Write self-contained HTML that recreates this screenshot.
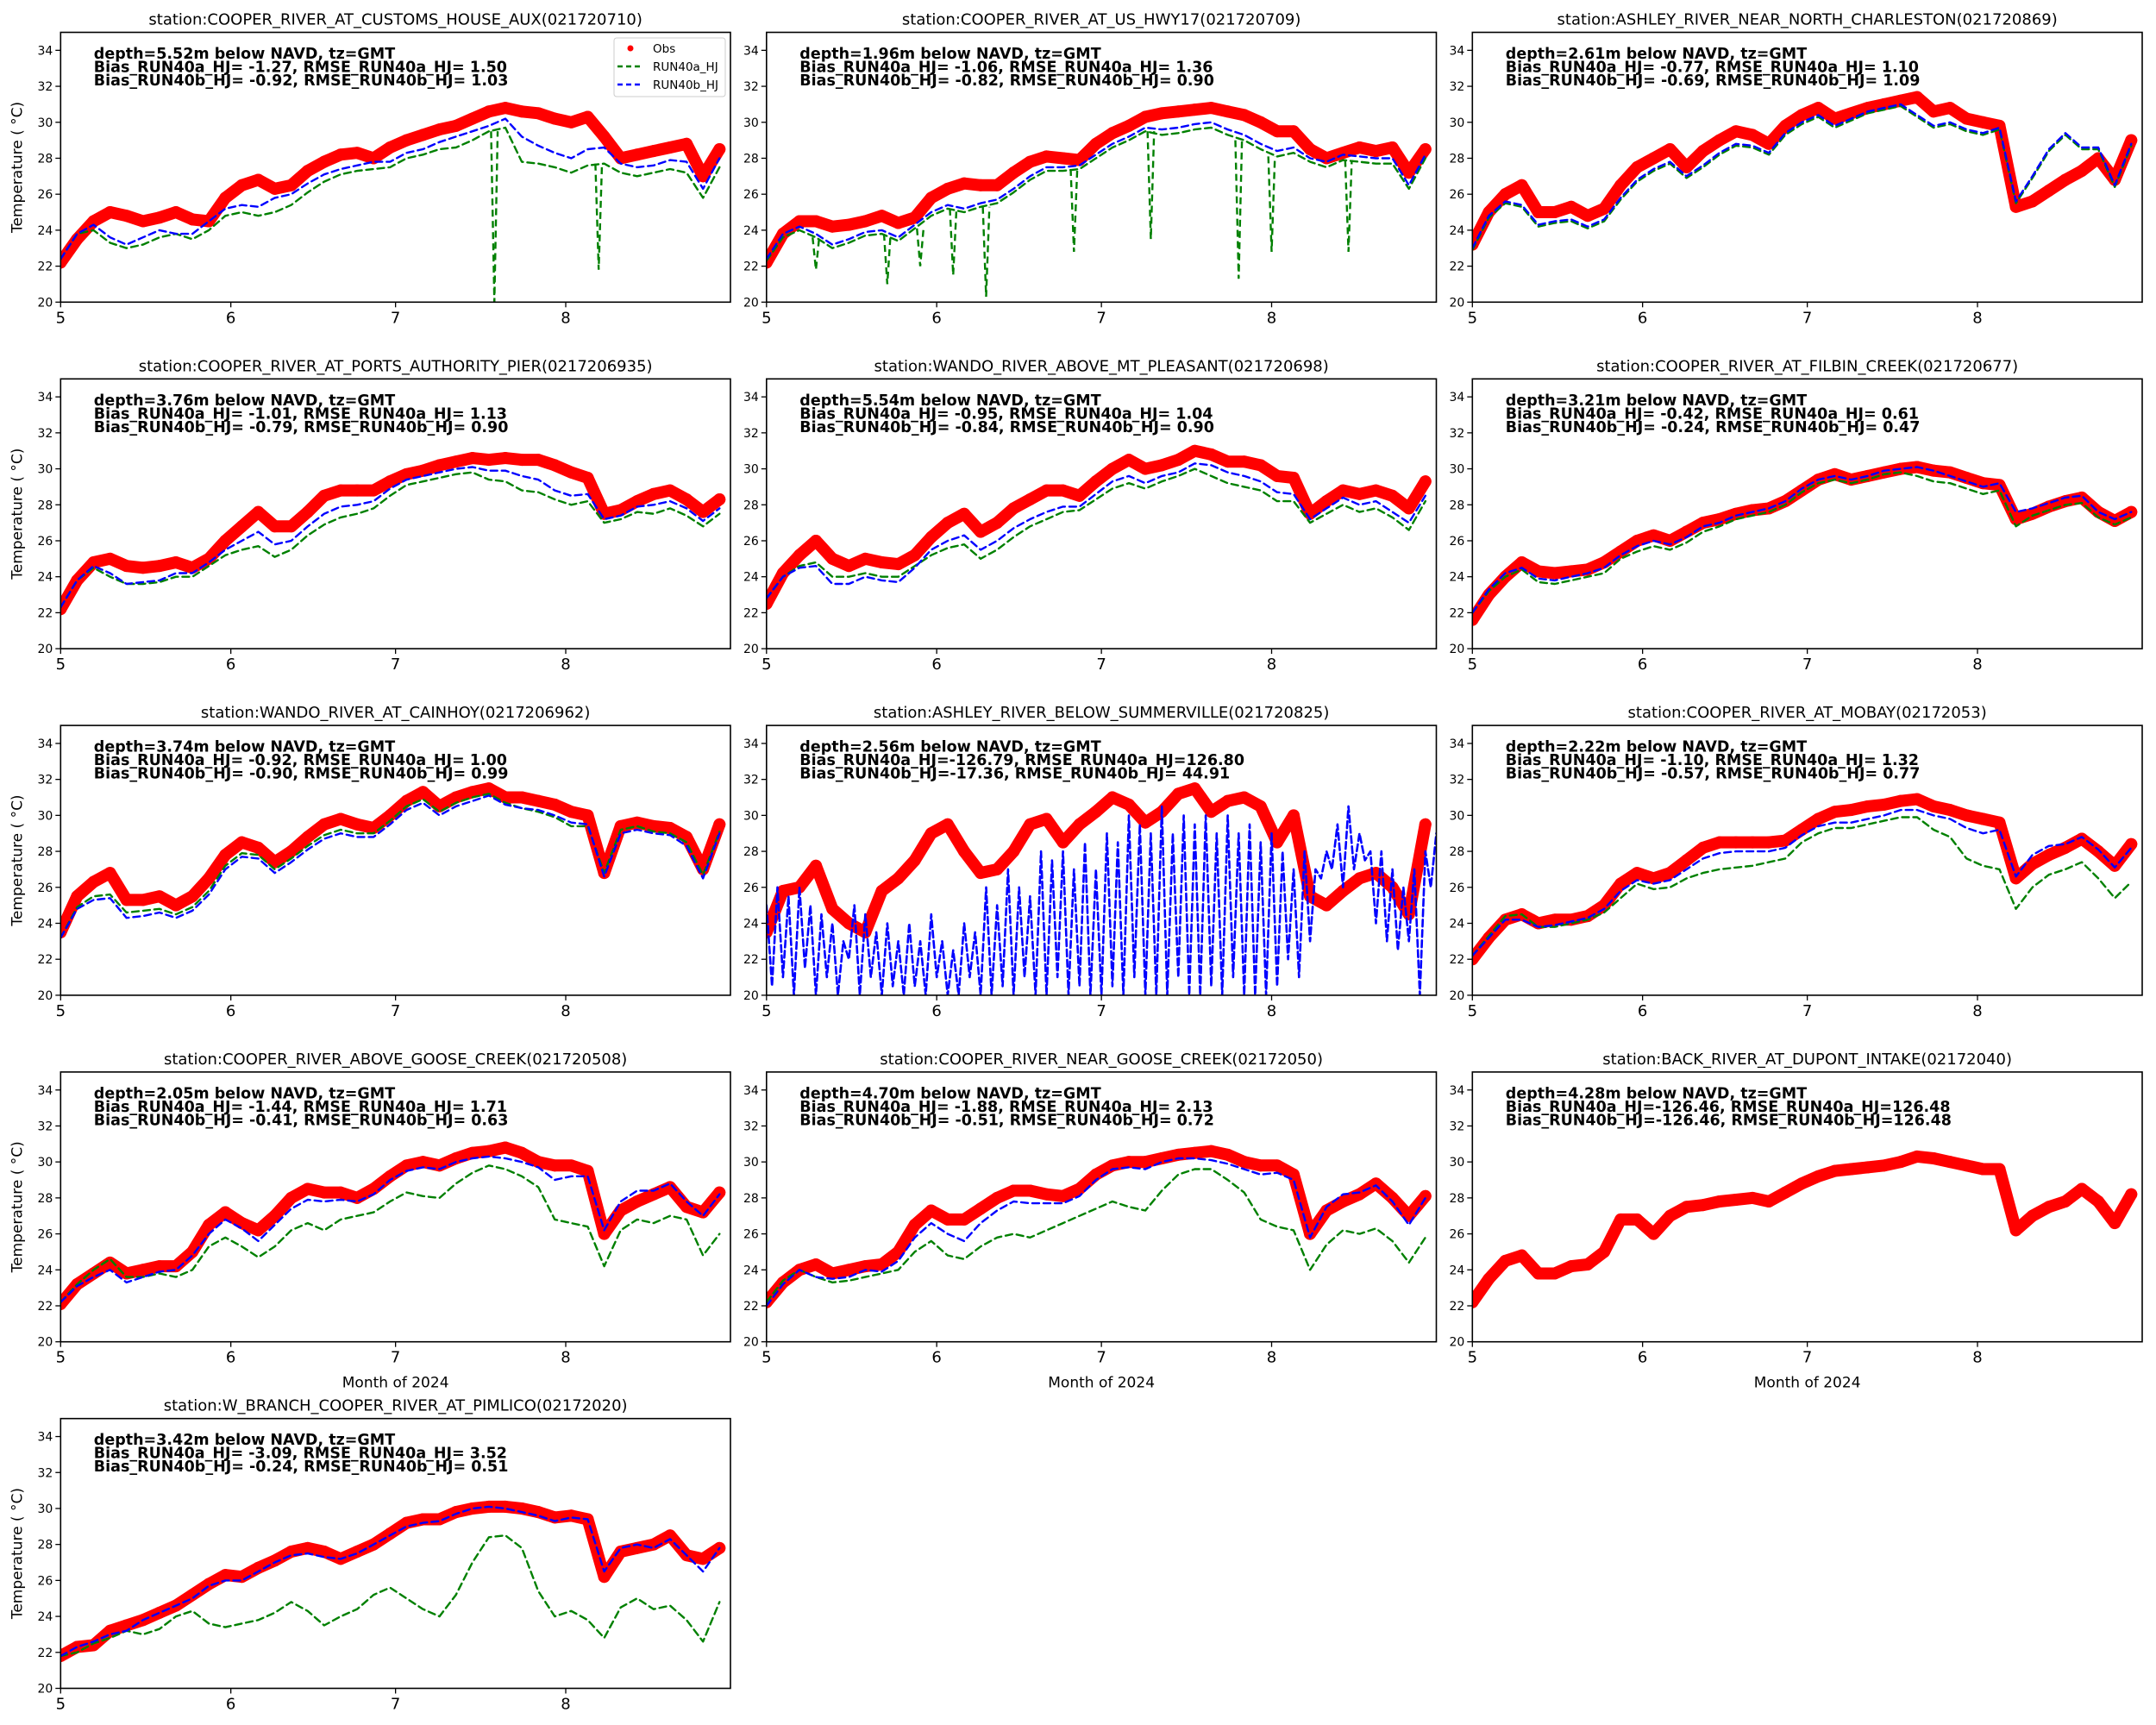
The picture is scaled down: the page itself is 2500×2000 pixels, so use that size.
<!DOCTYPE html>
<html><head><meta charset="utf-8"><style>
html,body{margin:0;padding:0;background:#fff;}
svg{display:block;font-family:"DejaVu Sans","Liberation Sans",sans-serif;}
</style></head><body>
<svg id="fig" width="2500" height="2000" viewBox="0 0 2500 2000" xmlns="http://www.w3.org/2000/svg"></svg>
<script>
// ---- data (days since May 1, 3-day step) ----
const dayStep = 3;
const yTicks = [20,22,24,26,28,30,32,34];
const xTickLabels = ["5","6","7","8"];
const xTickDays = [0,31,61,92];
const stations = [
"station:COOPER_RIVER_AT_CUSTOMS_HOUSE_AUX(021720710)",
"station:COOPER_RIVER_AT_US_HWY17(021720709)",
"station:ASHLEY_RIVER_NEAR_NORTH_CHARLESTON(021720869)",
"station:COOPER_RIVER_AT_PORTS_AUTHORITY_PIER(0217206935)",
"station:WANDO_RIVER_ABOVE_MT_PLEASANT(021720698)",
"station:COOPER_RIVER_AT_FILBIN_CREEK(021720677)",
"station:WANDO_RIVER_AT_CAINHOY(0217206962)",
"station:ASHLEY_RIVER_BELOW_SUMMERVILLE(021720825)",
"station:COOPER_RIVER_AT_MOBAY(02172053)",
"station:COOPER_RIVER_ABOVE_GOOSE_CREEK(021720508)",
"station:COOPER_RIVER_NEAR_GOOSE_CREEK(02172050)",
"station:BACK_RIVER_AT_DUPONT_INTAKE(02172040)",
"station:W_BRANCH_COOPER_RIVER_AT_PIMLICO(02172020)"];
const depths = ["5.52","1.96","2.61","3.76","5.54","3.21","3.74","2.56","2.22","2.05","4.70","4.28","3.42"];
const biasA = ["-1.27","-1.06","-0.77","-1.01","-0.95","-0.42","-0.92","-126.79","-1.10","-1.44","-1.88","-126.46","-3.09"];
const rmseA = [" 1.50"," 1.36"," 1.10"," 1.13"," 1.04"," 0.61"," 1.00","126.80"," 1.32"," 1.71"," 2.13","126.48"," 3.52"];
const biasB = ["-0.92","-0.82","-0.69","-0.79","-0.84","-0.24","-0.90","-17.36","-0.57","-0.41","-0.51","-126.46","-0.24"];
const rmseB = [" 1.03"," 0.90"," 1.09"," 0.90"," 0.90"," 0.47"," 0.99"," 44.91"," 0.77"," 0.63"," 0.72","126.48"," 0.51"];

const obs1=[22.2,23.5,24.5,25.0,24.8,24.5,24.7,25.0,24.6,24.5,25.8,26.5,26.8,26.3,26.5,27.3,27.8,28.2,28.3,28.0,28.6,29.0,29.3,29.6,29.8,30.2,30.6,30.8,30.6,30.5,30.2,30.0,30.3,29.2,28.0,28.2,28.4,28.6,28.8,27.0,28.5];
const runB1=[22.4,23.8,24.3,23.6,23.2,23.6,24.0,23.8,23.8,24.5,25.2,25.4,25.3,25.8,26.0,26.6,27.1,27.4,27.6,27.8,27.8,28.3,28.5,28.9,29.2,29.5,29.8,30.2,29.2,28.7,28.3,28.0,28.5,28.6,27.7,27.5,27.6,27.9,27.8,26.3,28.0];
const runA1=[22.4,23.8,24.0,23.3,23.0,23.2,23.6,23.8,23.5,24.0,24.8,25.0,24.8,25.0,25.4,26.1,26.7,27.1,27.3,27.4,27.5,28.0,28.2,28.5,28.6,29.0,29.5,29.7,27.8,27.7,27.5,27.2,27.6,27.7,27.2,27.0,27.2,27.4,27.2,25.8,27.5];
const spikeA1=[[79,20.0],[98,21.8]];

const obs2=[22.2,23.8,24.5,24.5,24.2,24.3,24.5,24.8,24.4,24.7,25.8,26.3,26.6,26.5,26.5,27.2,27.8,28.1,28.0,27.9,28.8,29.4,29.8,30.3,30.5,30.6,30.7,30.8,30.6,30.4,30.0,29.5,29.5,28.5,28.0,28.3,28.6,28.4,28.6,27.2,28.5];
const runB2=[22.4,23.8,24.2,23.8,23.2,23.5,23.9,24.0,23.6,24.3,25.0,25.4,25.2,25.5,25.7,26.3,27.0,27.5,27.5,27.6,28.2,28.8,29.2,29.7,29.6,29.7,29.9,30.0,29.6,29.3,28.8,28.4,28.6,28.0,27.8,28.2,28.1,28.0,28.0,26.5,28.2];
const runA2=[22.3,23.6,24.0,23.6,23.0,23.3,23.7,23.8,23.4,24.1,24.8,25.2,25.0,25.3,25.5,26.1,26.8,27.3,27.3,27.4,28.0,28.6,29.0,29.5,29.3,29.4,29.6,29.7,29.3,29.0,28.5,28.1,28.3,27.8,27.5,27.9,27.8,27.7,27.7,26.3,28.0];
const spikeA2=[[9,21.8],[22,21.0],[28,22.0],[34,21.5],[40,20.3],[56,22.8],[70,23.5],[86,21.3],[92,22.8],[106,22.8]];

const obs3=[23.2,25.0,26.0,26.5,25.0,25.0,25.3,24.8,25.2,26.5,27.5,28.0,28.5,27.5,28.4,29.0,29.5,29.3,28.8,29.8,30.4,30.8,30.2,30.5,30.8,31.0,31.2,31.4,30.6,30.8,30.2,30.0,29.8,25.3,25.6,26.2,26.8,27.3,28.0,26.8,29.0];
const runB3=[23.0,24.8,25.6,25.4,24.3,24.5,24.6,24.2,24.6,25.8,26.8,27.4,27.8,27.0,27.6,28.3,28.8,28.7,28.3,29.4,30.0,30.4,29.8,30.2,30.6,30.8,31.0,30.4,29.8,30.0,29.6,29.4,29.7,25.6,27.0,28.5,29.4,28.6,28.6,26.5,28.8];
const runA3=[22.9,24.7,25.5,25.3,24.2,24.4,24.5,24.1,24.5,25.7,26.7,27.3,27.7,26.9,27.5,28.2,28.7,28.6,28.2,29.3,29.9,30.3,29.7,30.1,30.5,30.7,30.9,30.3,29.7,29.9,29.5,29.3,29.6,25.5,26.9,28.4,29.3,28.5,28.5,26.4,28.7];

const obs4=[22.2,23.8,24.8,25.0,24.6,24.5,24.6,24.8,24.5,25.0,26.0,26.8,27.6,26.8,26.8,27.6,28.5,28.8,28.8,28.8,29.3,29.7,29.9,30.2,30.4,30.6,30.5,30.6,30.5,30.5,30.2,29.8,29.5,27.5,27.7,28.2,28.6,28.8,28.3,27.6,28.3];
const runB4=[22.3,23.8,24.6,24.2,23.6,23.7,23.8,24.2,24.2,24.8,25.5,26.0,26.5,25.8,26.0,26.8,27.5,27.9,28.0,28.2,28.9,29.4,29.6,29.8,30.0,30.1,29.9,29.9,29.6,29.4,28.8,28.5,28.6,27.2,27.4,27.9,28.0,28.2,27.8,27.1,27.8];
const runA4=[22.3,23.8,24.5,24.0,23.6,23.6,23.7,24.0,24.0,24.6,25.2,25.5,25.7,25.1,25.5,26.3,26.9,27.3,27.5,27.8,28.5,29.1,29.3,29.5,29.7,29.8,29.4,29.3,28.8,28.7,28.3,28.0,28.2,27.0,27.2,27.6,27.5,27.8,27.4,26.8,27.5];

const obs5=[22.5,24.2,25.2,26.0,25.0,24.6,25.0,24.8,24.7,25.2,26.2,27.0,27.5,26.5,27.0,27.8,28.3,28.8,28.8,28.5,29.3,30.0,30.5,30.0,30.2,30.5,31.0,30.8,30.4,30.4,30.2,29.6,29.5,27.5,28.2,28.8,28.6,28.8,28.5,27.8,29.3];
const runB5=[22.8,24.0,24.5,24.6,23.6,23.6,24.0,23.8,23.7,24.5,25.5,26.0,26.3,25.5,26.0,26.7,27.2,27.6,27.9,27.9,28.6,29.3,29.6,29.2,29.6,29.8,30.3,30.2,29.8,29.6,29.3,28.7,28.6,27.2,27.8,28.4,28.0,28.2,27.6,27.0,28.5];
const runA5=[22.8,24.0,24.6,24.8,24.0,24.0,24.2,24.0,24.0,24.6,25.2,25.6,25.8,25.0,25.5,26.2,26.8,27.2,27.6,27.7,28.3,28.9,29.2,28.9,29.3,29.6,30.0,29.6,29.2,29.0,28.8,28.2,28.2,27.0,27.5,28.0,27.6,27.8,27.3,26.6,28.2];

const obs6=[21.6,23.0,24.0,24.8,24.3,24.2,24.3,24.4,24.8,25.4,26.0,26.3,26.0,26.5,27.0,27.2,27.5,27.7,27.8,28.2,28.8,29.4,29.7,29.4,29.6,29.8,30.0,30.1,29.9,29.8,29.5,29.2,29.1,27.2,27.5,27.9,28.2,28.4,27.6,27.1,27.6];
const runB6=[22.0,23.3,24.2,24.5,23.9,23.8,24.0,24.2,24.5,25.2,25.7,26.0,25.8,26.2,26.8,27.0,27.4,27.6,27.8,28.2,28.9,29.4,29.6,29.4,29.6,29.9,30.0,30.1,29.9,29.6,29.3,29.0,29.2,27.6,27.8,28.1,28.4,28.5,27.6,27.2,27.6];
const runA6=[22.0,23.2,24.0,24.4,23.7,23.6,23.8,24.0,24.2,25.0,25.4,25.7,25.5,25.9,26.5,26.8,27.2,27.4,27.6,28.0,28.7,29.2,29.4,29.2,29.4,29.7,29.8,29.6,29.3,29.2,28.9,28.6,28.8,26.8,27.4,27.7,28.0,28.1,27.3,26.9,27.3];

const obs7=[23.5,25.5,26.3,26.8,25.3,25.3,25.5,25.0,25.5,26.5,27.8,28.5,28.2,27.4,28.0,28.8,29.5,29.8,29.5,29.3,30.0,30.8,31.3,30.5,31.0,31.3,31.5,31.0,31.0,30.8,30.6,30.2,30.0,26.8,29.4,29.6,29.4,29.3,28.8,27.0,29.5];
const runB7=[23.2,24.8,25.3,25.4,24.3,24.4,24.6,24.3,24.7,25.6,27.0,27.7,27.6,26.8,27.4,28.1,28.7,29.0,28.8,28.8,29.5,30.3,30.7,30.0,30.5,30.8,31.1,30.6,30.4,30.3,30.0,29.6,29.5,26.6,29.0,29.2,29.0,28.9,28.3,26.5,29.0];
const runA7=[23.2,24.9,25.5,25.6,24.6,24.7,24.8,24.5,24.9,25.8,27.2,27.9,27.8,27.0,27.6,28.3,28.9,29.2,29.0,29.0,29.7,30.5,30.9,30.2,30.7,31.0,31.2,30.7,30.4,30.2,29.9,29.4,29.4,26.8,29.2,29.4,29.1,29.0,28.5,26.7,29.1];

const obs8=[23.5,25.8,26.0,27.2,24.8,24.0,23.5,25.8,26.5,27.5,29.0,29.5,28.0,26.8,27.0,28.0,29.5,29.8,28.5,29.5,30.2,31.0,30.6,29.6,30.2,31.2,31.5,30.2,30.8,31.0,30.5,28.5,30.0,25.5,25.0,25.8,26.5,26.8,26.0,24.5,29.5];
// daily values (1-day step) for the erratic RUN40b series at Summerville
const runB8daily=[25,20.5,26,21,25.5,20,26,21.5,25,20,24.5,21,
24,20,23,22,25,20,24.5,21,23.5,20,24,20.5,23,
20,24,20.5,23,20,24.5,21,23,20,22.5,20,24,21,23.5,20,
26,20,25,20.5,27,20,26,21,25.5,20,
28,20,27.5,21,28,20,27,20.5,28.5,20,27,
20,29,20.5,28.5,20,30,21,29.5,20,29,20,30.5,20,29,21,30,20,29.5,20,30,20.5,29,20,30,21,29,20,29.5,20,28.5,20,29,20.5,28,
22,27,21,28,23,27,
26.5,28,27,29.5,26,30.5,27,29,27.5,28,
24,28,23,27,22.5,26,23,27,20,28,26,29];

const obs9=[22.0,23.2,24.2,24.5,24.0,24.2,24.2,24.4,25.0,26.2,26.8,26.5,26.8,27.5,28.2,28.5,28.5,28.5,28.5,28.6,29.2,29.8,30.2,30.3,30.5,30.6,30.8,30.9,30.5,30.3,30.0,29.8,29.6,26.5,27.3,27.8,28.2,28.7,28.0,27.2,28.4];
const runB9=[22.2,23.2,24.2,24.2,23.8,23.9,24.1,24.3,24.8,25.8,26.4,26.2,26.4,27.0,27.6,27.9,28.0,28.0,28.0,28.2,28.9,29.4,29.6,29.6,29.8,30.0,30.3,30.3,30.0,29.8,29.3,29.0,29.2,26.6,27.8,28.3,28.4,28.8,28.1,27.1,28.2];
const runA9=[22.2,23.3,24.4,24.5,23.8,23.8,24.0,24.2,24.6,25.4,26.2,25.9,26.0,26.5,26.8,27.0,27.1,27.2,27.4,27.6,28.5,29.0,29.3,29.3,29.5,29.7,29.9,29.9,29.2,28.8,27.6,27.2,27.0,24.8,26.0,26.7,27.0,27.4,26.5,25.4,26.3];

const obs10=[22.1,23.2,23.8,24.4,23.8,24.0,24.2,24.2,25.0,26.5,27.2,26.6,26.2,27.0,28.0,28.5,28.3,28.3,28.0,28.5,29.2,29.8,30.0,29.8,30.2,30.5,30.6,30.8,30.5,30.0,29.8,29.8,29.5,26.0,27.3,27.8,28.2,28.6,27.5,27.2,28.3];
const runB10=[22.2,23.1,23.6,24.0,23.3,23.6,23.9,24.0,24.8,26.0,26.8,26.3,25.6,26.5,27.4,27.9,27.8,27.9,27.8,28.2,29.0,29.5,29.7,29.6,30.0,30.2,30.3,30.2,30.0,29.7,29.0,29.2,29.2,26.2,27.8,28.4,28.4,28.8,27.8,27.0,28.2];
const runA10=[22.2,23.2,24.0,24.6,23.6,23.6,23.8,23.6,24.0,25.3,25.8,25.3,24.7,25.3,26.2,26.6,26.2,26.8,27.0,27.2,27.8,28.3,28.1,28.0,28.8,29.4,29.8,29.6,29.2,28.6,26.8,26.6,26.4,24.2,26.2,26.8,26.6,27.0,26.8,24.8,26.0];

const obs11=[22.2,23.3,24.0,24.3,23.8,24.0,24.2,24.3,25.0,26.5,27.3,26.8,26.8,27.4,28.0,28.4,28.4,28.2,28.1,28.5,29.3,29.8,30.0,30.0,30.2,30.4,30.5,30.6,30.4,30.0,29.8,29.8,29.3,26.0,27.3,27.8,28.2,28.8,28.0,27.0,28.1];
const runB11=[22.0,23.2,24.0,23.6,23.5,23.6,24.0,23.9,24.5,25.8,26.6,26.0,25.6,26.6,27.3,27.8,27.7,27.7,27.7,28.1,29.0,29.6,29.7,29.6,30.0,30.2,30.2,30.1,29.9,29.6,29.3,29.4,29.0,25.8,27.5,28.2,28.3,28.7,27.8,26.5,28.0];
const runA11=[22.2,23.4,24.0,23.6,23.3,23.4,23.6,23.8,24.0,25.0,25.6,24.8,24.6,25.3,25.8,26.0,25.8,26.2,26.6,27.0,27.4,27.8,27.5,27.3,28.4,29.3,29.6,29.6,29.0,28.3,26.8,26.4,26.2,24.0,25.4,26.2,26.0,26.3,25.6,24.4,25.8];

const obs12=[22.2,23.5,24.5,24.8,23.8,23.8,24.2,24.3,25.0,26.8,26.8,26.0,27.0,27.5,27.6,27.8,27.9,28.0,27.8,28.3,28.8,29.2,29.5,29.6,29.7,29.8,30.0,30.3,30.2,30.0,29.8,29.6,29.6,26.2,27.0,27.5,27.8,28.5,27.8,26.6,28.2];

const obs13=[21.8,22.3,22.4,23.2,23.5,23.8,24.2,24.6,25.2,25.8,26.3,26.2,26.7,27.1,27.6,27.8,27.6,27.2,27.6,28.0,28.6,29.2,29.4,29.4,29.8,30.0,30.1,30.1,30.0,29.8,29.5,29.6,29.4,26.2,27.6,27.8,28.0,28.5,27.4,27.2,27.8];
const runB13=[21.8,22.3,22.6,23.0,23.2,23.8,24.2,24.6,25.0,25.7,26.0,26.0,26.5,27.0,27.4,27.5,27.3,27.2,27.5,28.0,28.5,29.0,29.2,29.3,29.7,30.0,30.1,30.0,29.8,29.6,29.3,29.5,29.4,26.5,27.8,28.0,27.8,28.3,27.4,26.5,27.8];
const runA13=[21.8,22.0,22.5,22.8,23.2,23.0,23.3,24.0,24.3,23.6,23.4,23.6,23.8,24.2,24.8,24.3,23.5,24.0,24.4,25.2,25.6,25.0,24.4,24.0,25.2,27.0,28.4,28.5,27.8,25.4,24.0,24.3,23.8,22.8,24.5,25.0,24.4,24.6,23.8,22.6,24.8];

const obsSeries=[obs1,obs2,obs3,obs4,obs5,obs6,obs7,obs8,obs9,obs10,obs11,obs12,obs13];
const runASeries=[runA1,runA2,runA3,runA4,runA5,runA6,runA7,null,runA9,runA10,runA11,null,runA13];
const runBSeries=[runB1,runB2,runB3,runB4,runB5,runB6,runB7,null,runB9,runB10,runB11,null,runB13];
const runASpikes=[spikeA1,spikeA2];

// ---- layout ----
const NS="http://www.w3.org/2000/svg";
const svg=document.getElementById('fig');
const L0=70.3, CW=818.5, AW=776.7, T0=37.5, RH=401.8, AH=312.8;
const XMAX=122, YMIN=20, YMAX=35;
function mk(tag,attrs,parent){const e=document.createElementNS(NS,tag);for(const k in attrs)e.setAttribute(k,attrs[k]);(parent||svg).appendChild(e);return e;}

stations.forEach((name,i)=>{
  const r=Math.floor(i/3), c=i%3;
  const L=L0+c*CW, T=T0+r*RH, B=T+AH, R=L+AW;
  const xs=d=>L+d/XMAX*AW;
  const ys=v=>B-(v-YMIN)/(YMAX-YMIN)*AH;
  const g=mk('g',{});
  
  
  const cp=mk('clipPath',{id:'cp'+i},g);
  mk('rect',{x:L,y:T,width:AW,height:AH},cp);
  const plot=mk('g',{'clip-path':'url(#cp'+i+')'},g);
  
  
  function drawLine(arr,step,color,w,dash,dn){
    const pts=arr.map((v,k)=>xs(k*step).toFixed(1)+','+ys(v).toFixed(1)).join(' ');
    const pl=mk('polyline',{points:pts,fill:'none',stroke:color,'stroke-width':w,'stroke-dasharray':dash||'none','stroke-linejoin':'round','stroke-linecap':'round'},plot);
    
    
    return pl;
  }
  const ob=obsSeries[i];
  drawLine(ob,dayStep,'#ff0000',14,null,'obs-series');
  ob.forEach((v,k)=>{
    const cEl=mk('circle',{cx:xs(k*dayStep),cy:ys(v),r:7,fill:'#ff0000'},plot);
    
    
  });
  if(runASeries[i]){
    drawLine(runASeries[i],dayStep,'#008000',2.4,'8,5','run40a-series');
    const sp=runASpikes[i];
    if(sp){sp.forEach(s=>{
      const k=Math.round(s[0]/dayStep);const base=runASeries[i][Math.min(k,runASeries[i].length-1)];
      const ln=mk('polyline',{points:xs(s[0]-0.6)+','+ys(base)+' '+xs(s[0])+','+ys(s[1])+' '+xs(s[0]+0.6)+','+ys(base),fill:'none',stroke:'#008000','stroke-width':2.4,'stroke-dasharray':'8,5'},plot);
      
      
    });}
  }
  if(runBSeries[i]) drawLine(runBSeries[i],dayStep,'#0000ff',2.4,'8,5','run40b-series');
  if(i===7) drawLine(runB8daily,1,'#0000ff',2.6,'8,4','run40b-series');
  const fr=mk('rect',{x:L,y:T,width:AW,height:AH,fill:'none',stroke:'#000','stroke-width':1.6},g);
  
  
  yTicks.forEach(v=>{
    const y=ys(v);
    mk('line',{x1:L-6,x2:L,y1:y,y2:y,stroke:'#000','stroke-width':1.3},g);
    const t=mk('text',{x:L-9,y:y+5,'text-anchor':'end','font-size':14},g);
    t.textContent=v;
    
    
  });
  xTickDays.forEach((d,k)=>{
    const x=xs(d);
    mk('line',{x1:x,x2:x,y1:B,y2:B+6,stroke:'#000','stroke-width':1.3},g);
    const t=mk('text',{x:x,y:B+24,'text-anchor':'middle','font-size':18},g);
    t.textContent=xTickLabels[k];
    
    
  });
  const tt=mk('text',{x:L+AW/2,y:T-9,'text-anchor':'middle','font-size':18},g);
  tt.textContent=name;
  
  
  const lines=['depth='+depths[i]+'m below NAVD, tz=GMT',
    'Bias_RUN40a_HJ='+(biasA[i].length>5?'':' ')+biasA[i]+', RMSE_RUN40a_HJ='+rmseA[i],
    'Bias_RUN40b_HJ='+(biasB[i].length>5?'':' ')+biasB[i]+', RMSE_RUN40b_HJ='+rmseB[i]];
  lines.forEach((s,k)=>{
    const t=mk('text',{x:L+38.5,y:T+30.5+k*15.5,'font-size':17.5,'font-weight':'bold'},g);
    t.setAttribute('style','white-space:pre');
    t.textContent=s;
    
    
  });
  if(c===0){
    const yl=mk('text',{x:0,y:0,transform:'translate('+(L-45)+','+(T+AH/2)+') rotate(-90)','text-anchor':'middle','font-size':17},g);
    yl.textContent='Temperature ( \u00b0C)';
    
    
  }
  if(r===3){
    const xl=mk('text',{x:L+AW/2,y:B+53,'text-anchor':'middle','font-size':17},g);
    xl.textContent='Month of 2024';
    
    
  }
  if(i===0){
    const lg=mk('g',{},g);
    
    
    mk('rect',{x:712,y:44,width:129,height:68,rx:3,fill:'#fff','fill-opacity':0.8,stroke:'#ccc','stroke-width':1},lg);
    mk('circle',{cx:731,cy:56,r:3.5,fill:'#ff0000'},lg);
    mk('line',{x1:716,x2:746,y1:77,y2:77,stroke:'#008000','stroke-width':2.4,'stroke-dasharray':'6,4'},lg);
    mk('line',{x1:716,x2:746,y1:98,y2:98,stroke:'#0000ff','stroke-width':2.4,'stroke-dasharray':'6,4'},lg);
    [['Obs',56],['RUN40a_HJ',77],['RUN40b_HJ',98]].forEach(e=>{
      const t=mk('text',{x:757,y:e[1]+5,'font-size':13.5},lg);
      t.textContent=e[0];
      
      
    });
  }
});
</script>
</body></html>
